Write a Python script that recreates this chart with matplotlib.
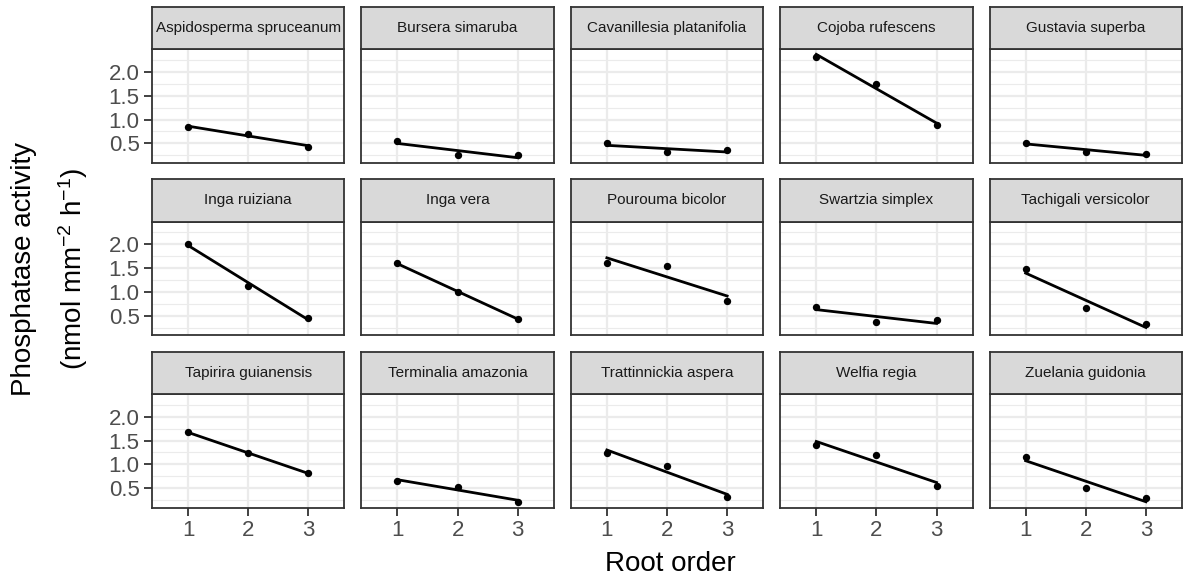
# Phosphatase activity vs root order, one small panel per species (lm fit + points)

import matplotlib.pyplot as plt
import numpy as np

plt.rcParams['font.family'] = ['Liberation Sans', 'DejaVu Sans']
plt.rcParams['mathtext.fontset'] = 'custom'
plt.rcParams['mathtext.rm'] = 'Liberation Sans'
plt.rcParams['mathtext.it'] = 'Liberation Sans'

species = ['Aspidosperma spruceanum', 'Bursera simaruba', 'Cavanillesia platanifolia',
           'Cojoba rufescens', 'Gustavia superba',
           'Inga ruiziana', 'Inga vera', 'Pourouma bicolor',
           'Swartzia simplex', 'Tachigali versicolor',
           'Tapirira guianensis', 'Terminalia amazonia', 'Trattinnickia aspera',
           'Welfia regia', 'Zuelania guidonia']
root_order = [1, 2, 3]
# mean activity at root order 1, 2, 3
activity_1 = [0.84, 0.55, 0.50, 2.32, 0.51, 2.01, 1.60, 1.60, 0.69, 1.47, 1.67, 0.65, 1.24, 1.41, 1.15]
activity_2 = [0.70, 0.25, 0.31, 1.74, 0.33, 1.12, 0.99, 1.54, 0.36, 0.67, 1.24, 0.52, 0.96, 1.19, 0.50]
activity_3 = [0.43, 0.25, 0.36, 0.88, 0.27, 0.45, 0.44, 0.80, 0.40, 0.33, 0.81, 0.22, 0.31, 0.55, 0.29]

W, H = 1183, 577
fig = plt.figure(figsize=(W / 100, H / 100), dpi=100)

x = np.array(root_order, dtype=float)
vals = np.array([activity_1, activity_2, activity_3]).T
fits = [np.polyfit(x, v, 1) for v in vals]

# shared y range, with 5% padding like ggplot
all_y = np.concatenate([vals.ravel()] + [np.polyval(f, x) for f in fits])
lo, hi = all_y.min(), all_y.max()
pad = 0.05 * (hi - lo)
ylim = (lo - pad, hi + pad)

left0, right_end, gap = 152, 1182, 17
pw = (right_end - left0 - 4 * gap) / 5
row_strip_top = [6.7, 179, 351.5]
strip_h = 42.5
panel_h = 113.7
border = '#333333'

for i, sp in enumerate(species):
    r, c = divmod(i, 5)
    x0 = left0 + c * (pw + gap)
    st = row_strip_top[r]
    pt = st + strip_h
    ax = fig.add_axes([x0 / W, 1 - (pt + panel_h) / H, pw / W, panel_h / H])
    sax = fig.add_axes([x0 / W, 1 - pt / H, pw / W, strip_h / H])

    sax.set_facecolor('#D9D9D9')
    sax.set_xticks([])
    sax.set_yticks([])
    for s in sax.spines.values():
        s.set_color(border)
        s.set_linewidth(1.3)
    sax.text(0.5, 0.5, sp, ha='center', va='center', fontsize=11,
             color='#1A1A1A', transform=sax.transAxes)

    ax.set_xlim(0.4, 3.6)
    ax.set_ylim(*ylim)
    ax.set_xticks(root_order)
    ax.set_yticks([0.5, 1.0, 1.5, 2.0])
    ax.set_yticks([0.25, 0.75, 1.25, 1.75, 2.25], minor=True)
    ax.grid(True, which='major', color='#EBEBEB', lw=1.6, zorder=0)
    ax.grid(True, which='minor', axis='y', color='#EBEBEB', lw=0.8, zorder=0)
    ax.set_axisbelow(True)
    for s in ax.spines.values():
        s.set_color(border)
        s.set_linewidth(1.3)

    ax.tick_params(which='minor', length=0)
    ax.tick_params(which='major', length=6, width=1.3, color=border,
                   labelsize=16, labelcolor='#4D4D4D', pad=3)
    if c != 0:
        ax.tick_params(axis='y', length=0, labelleft=False)
    else:
        ax.set_yticklabels(['0.5', '1.0', '1.5', '2.0'])
    if r != 2:
        ax.tick_params(axis='x', length=0, labelbottom=False)

    xs = np.array([1, 3])
    ax.plot(xs, np.polyval(fits[i], xs), color='black', lw=2.0, zorder=3)
    ax.scatter(x, vals[i], s=28, color='black', zorder=4, linewidths=0)

fig.text(670 / W, 1 - 564 / H, 'Root order', ha='center', va='center', fontsize=20)
fig.text(24 / W, 1 - 269 / H, 'Phosphatase activity', ha='center', va='center',
         rotation=90, fontsize=20)
fig.text(73 / W, 1 - 269 / H, r'(nmol mm$^{-2}$ h$^{-1}$)', ha='center', va='center',
         rotation=90, fontsize=20)

fig.savefig('out.png', dpi=100)
